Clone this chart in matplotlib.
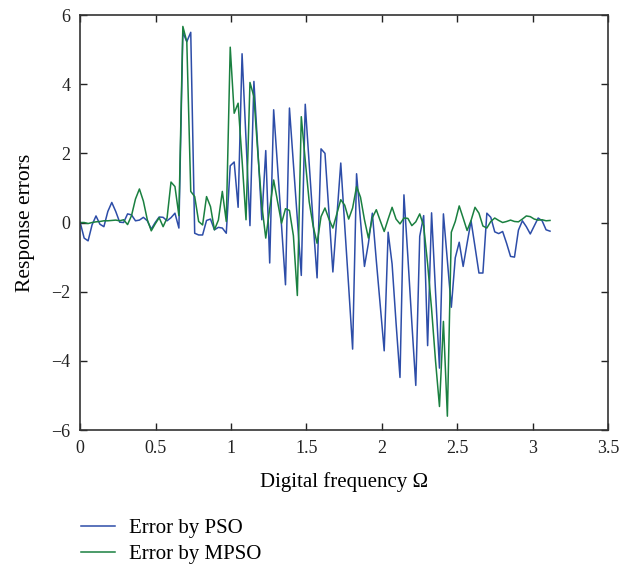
import numpy as np
import matplotlib
matplotlib.use("Agg")
import matplotlib.pyplot as plt
import matplotlib.ticker as ticker


# response errors sampled on a uniform digital-frequency grid (step pi/120)
err_pso = [
    0.0, -0.45, -0.53, -0.07, 0.19, -0.05, -0.12, 0.32, 0.58, 0.32,
    0.01, 0.0, 0.25, 0.22, 0.05, 0.07, 0.15, 0.05, -0.19, 0.0,
    0.16, 0.15, 0.05, 0.14, 0.27, -0.16, 5.5, 5.23, 5.5, -0.31,
    -0.36, -0.36, 0.06, 0.1, -0.21, -0.14, -0.16, -0.31, 1.64, 1.75,
    0.44, 4.88, 2.4, -0.09, 4.08, 2.1, 0.08, 2.08, -1.17, 3.26,
    1.6, -0.1, -1.8, 3.31, 1.7, 0.1, -1.53, 3.42, 1.7, 0.0,
    -1.6, 2.13, 2.0, 0.3, -1.43, 0.15, 1.72, -0.09, -1.85, -3.66,
    1.41, 0.05, -1.27, -0.6, 0.27, -1.1, -2.4, -3.71, -0.28, -1.2,
    -2.9, -4.48, 0.8, -1.0, -2.9, -4.71, -0.4, 0.2, -3.56, 0.28,
    -2.0, -4.21, 0.25, -1.1, -2.45, -1.02, -0.57, -1.27, -0.6, 0.05,
    -0.7, -1.46, -1.46, 0.27, 0.15, -0.27, -0.32, -0.26, -0.6, -0.98,
    -1.0, -0.22, 0.05, -0.12, -0.33, -0.1, 0.13, 0.05, -0.21, -0.25,
]
err_mpso = [
    0.0, 0.0, -0.03, 0.0, 0.02, 0.03, 0.05, 0.05, 0.06, 0.07,
    0.05, 0.08, -0.06, 0.2, 0.68, 0.97, 0.62, 0.08, -0.24, -0.04,
    0.14, -0.12, 0.13, 1.17, 1.04, 0.2, 5.67, 5.23, 0.9, 0.75,
    0.03, -0.07, 0.75, 0.46, -0.21, 0.07, 0.9, 0.03, 5.07, 3.16,
    3.45, 1.8, 0.08, 4.05, 3.64, 2.0, 0.5, -0.45, 0.4, 1.23,
    0.6, -0.02, 0.4, 0.35, -0.38, -2.11, 3.06, 1.8, 0.6, -0.1,
    -0.6, 0.17, 0.42, 0.1, -0.16, 0.25, 0.66, 0.5, 0.1, 0.42,
    1.04, 0.73, 0.08, -0.45, 0.14, 0.37, 0.05, -0.26, 0.1, 0.44,
    0.1, -0.04, 0.13, 0.12, -0.09, 0.02, 0.25, -0.1, -1.2, -2.5,
    -4.0, -5.32, -2.86, -5.6, -0.28, 0.03, 0.48, 0.13, -0.23, 0.06,
    0.44, 0.27, -0.1, -0.16, 0.03, 0.13, 0.06, 0.0, 0.03, 0.07,
    0.03, 0.02, 0.1, 0.19, 0.17, 0.1, 0.07, 0.08, 0.05, 0.06,
]
labels = ["Error by PSO", "Error by MPSO"]
colors = ["#2D4DA8", "#1A8040"]

plt.rcParams["font.family"] = ["Liberation Serif", "DejaVu Serif"]

omega = np.arange(len(err_pso)) * np.pi / 120

fig = plt.figure(figsize=(6.35, 5.67), dpi=100)
ax = fig.add_axes([0.1263, 0.2416, 0.8312, 0.7319])

for ys, lab, col in zip([err_pso, err_mpso], labels, colors):
    ax.plot(omega, ys, color=col, lw=1.1, label=lab)

ax.set_xlim(0, 3.5)
ax.set_ylim(-6, 6)
ax.xaxis.set_major_locator(ticker.MultipleLocator(0.5))
ax.yaxis.set_major_locator(ticker.MultipleLocator(2))
ax.xaxis.set_major_formatter(ticker.FuncFormatter(lambda v, p: f"{v:g}"))
ax.tick_params(direction="in", top=True, right=True, length=5, width=1,
               labelsize=13, pad=7, colors="#222222")
for sp in ax.spines.values():
    sp.set_color("#333333")
    sp.set_linewidth(1.2)

ax.set_xlabel("Digital frequency Ω", fontsize=15, labelpad=11)
ax.set_ylabel("Response errors", fontsize=15.5, labelpad=12)

fig.legend(loc="upper left", bbox_to_anchor=(0.127, 0.085), frameon=False,
           fontsize=15, handlelength=1.65, handletextpad=0.68, labelspacing=0.3,
           borderaxespad=0, borderpad=0)

fig.savefig("out.png", dpi=100)
